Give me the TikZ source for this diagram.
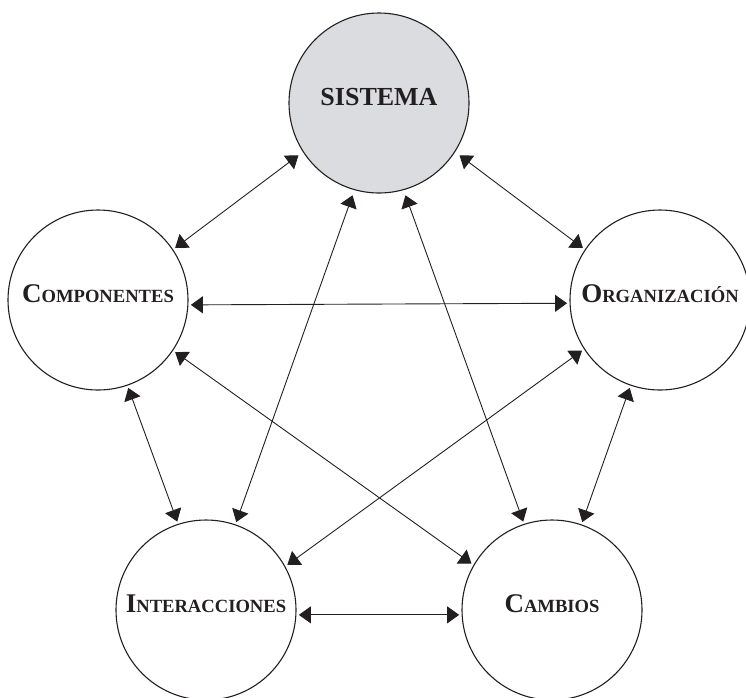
\documentclass[tikz,border=0pt]{standalone}
\usepackage{fontspec}
\setmainfont{Liberation Serif}
\usetikzlibrary{arrows.meta}
\definecolor{ink}{RGB}{35,31,32}
\definecolor{shade}{RGB}{219,220,223}
% capital initial followed by reduced capitals
\newcommand\smallcapsword[2]{{\fontsize{27}{27}\selectfont #1}{\fontsize{18.6}{18.6}\selectfont #2}}
\begin{document}
\begin{tikzpicture}[x=1pt,y=-1pt,
  concept/.style={circle, draw=ink, line width=1.1pt, minimum size=180pt,
    inner sep=0pt, outer sep=3pt, text=ink, font=\bfseries,
    text height=12pt, text depth=8pt},
  link/.style={draw=ink, line width=0.9pt,
    {Triangle[length=12pt,width=17pt]}-{Triangle[length=12pt,width=17pt]}}]
\path[use as bounding box, clip] (0,0) rectangle (746,697);

\node[concept, fill=shade, outer sep=6pt] (sis) at (379,103)
  {\fontsize{26}{26}\selectfont SISTEMA};
\node[concept] (comp)  at (98,300)  {\smallcapsword{C}{OMPONENTES}};
\node[concept] (org)   at (660,300) {\smallcapsword{O}{RGANIZACIÓN}};
\node[concept] (inter) at (206,610) {\smallcapsword{I}{NTERACCIONES}};
\node[concept] (camb)  at (552,610) {\smallcapsword{C}{AMBIOS}};

% outer ring
\draw[link] (sis.213)   -- (comp.34);
\draw[link] (sis.327)   -- (org.146);
\draw[link] (comp.289)  -- (inter.108.8);
\draw[link] (org.251)   -- (camb.71.2);
\draw[link] (inter.357) -- (camb.183);
% inner star
\draw[link] (sis.254)   -- (inter.71.6);
\draw[link] (sis.286)   -- (camb.108.4);
\draw[link] (comp.357.5) -- (org.182.5);
\draw[link] (comp.326.8) -- (camb.150.4);
\draw[link] (org.213.2) -- (inter.29.6);
\end{tikzpicture}
\end{document}
